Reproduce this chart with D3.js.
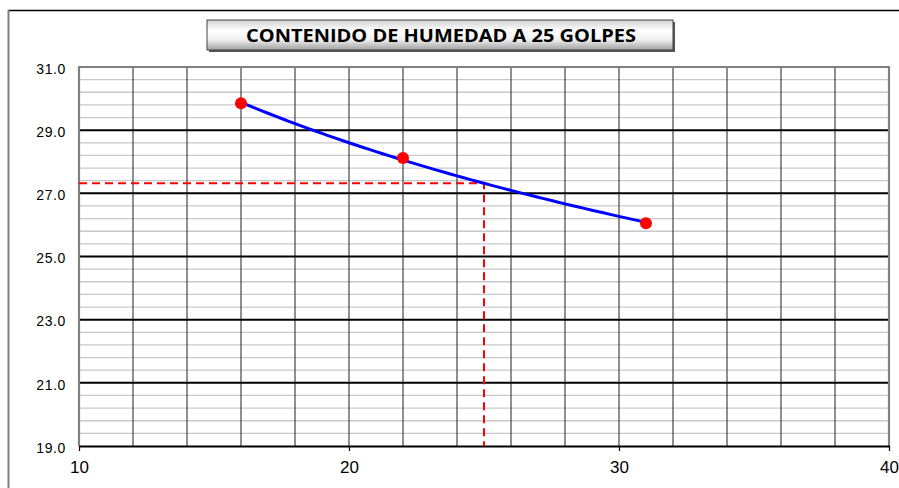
<!DOCTYPE html>
<html>
<head>
<meta charset="utf-8">
<script src="https://cdn.jsdelivr.net/npm/d3@7"></script>
<style>
  html, body { margin: 0; padding: 0; background: #fff; }
  svg { display: block; }
</style>
</head>
<body>
<svg id="chart" width="899" height="488"></svg>
<script>
// ---- data ----
const titleText = "CONTENIDO DE HUMEDAD A 25 GOLPES";
const golpes = [16, 22, 31];            // number of blows
const humedad = [29.85, 28.12, 26.05];  // moisture content (%)
const golpesRef = 25;                   // reference blows
const humedadRef = 27.32;               // moisture at 25 blows
const xTicks = [10, 20, 30, 40];
const yTicks = [19, 21, 23, 25, 27, 29, 31];
const xDomain = [10, 40];
const yDomain = [19, 31];

// ---- layout ----
const svg = d3.select("#chart");
const pLeft = 79, pRight = 889, pTop = 67, pBottom = 446;

const x = d3.scaleLinear().domain(xDomain).range([pLeft, pRight]);
const y = d3.scaleLinear().domain(yDomain).range([pBottom, pTop]);

// outer chart border
svg.append("line").attr("x1", 8).attr("x2", 899).attr("y1", 10.5).attr("y2", 10.5)
  .attr("stroke", "#000").attr("stroke-width", 1.5);
svg.append("line").attr("x1", 8.5).attr("x2", 8.5).attr("y1", 10).attr("y2", 488)
  .attr("stroke", "#808080").attr("stroke-width", 2);

// minor horizontal grid (every 0.4)
const minor = d3.range(19, 31.0001, 0.4).filter(v => Math.abs((v - 19) / 2 - Math.round((v - 19) / 2)) > 1e-6);
svg.append("g").selectAll("line").data(minor).join("line")
  .attr("x1", pLeft).attr("x2", pRight)
  .attr("y1", d => y(d)).attr("y2", d => y(d))
  .attr("stroke", "#c8c8c8").attr("stroke-width", 1.3);

// vertical grid every 2
const vgrid = d3.range(12, 40, 2);
svg.append("g").selectAll("line").data(vgrid).join("line")
  .attr("x1", d => x(d)).attr("x2", d => x(d))
  .attr("y1", pTop).attr("y2", pBottom)
  .attr("stroke", "#333").attr("stroke-width", 1.1);

// major horizontal grid
svg.append("g").selectAll("line").data(yTicks.filter(d => d !== 19 && d !== 31)).join("line")
  .attr("x1", pLeft).attr("x2", pRight)
  .attr("y1", d => y(d)).attr("y2", d => y(d))
  .attr("stroke", "#000").attr("stroke-width", 2);

// plot border (top/left/right gray)
svg.append("path")
  .attr("d", `M${pLeft},${pBottom}V${pTop}H${pRight}V${pBottom}`)
  .attr("fill", "none").attr("stroke", "#808080").attr("stroke-width", 2.2);

// x axis
const xAxis = d3.axisBottom(x).tickValues(xTicks).tickSize(5).tickSizeOuter(0).tickFormat(d3.format("d"));
const gx = svg.append("g").attr("transform", `translate(0,${pBottom})`).call(xAxis);
gx.select(".domain").attr("stroke", "#000").attr("stroke-width", 2);
gx.selectAll(".tick line").attr("stroke", "#000").attr("stroke-width", 1.2);
gx.selectAll(".tick text").attr("font-family", "Liberation Sans, Arial, sans-serif")
  .attr("font-size", 17).attr("fill", "#000").attr("dy", 0).attr("y", 27);

// y axis labels
const yAxis = d3.axisLeft(y).tickValues(yTicks).tickSize(0).tickFormat(d3.format(".1f"));
const gy = svg.append("g").attr("transform", `translate(${pLeft},0)`).call(yAxis);
gy.select(".domain").remove();
gy.selectAll(".tick text").attr("font-family", "Liberation Sans, Arial, sans-serif")
  .attr("font-size", 14).attr("letter-spacing", "0.6px").attr("fill", "#000")
  .attr("x", -13).attr("dy", "0.45em");

// dashed reference lines
svg.append("path")
  .attr("d", `M${x(xDomain[0])},${y(humedadRef)}H${x(golpesRef)}V${y(yDomain[0])}`)
  .attr("fill", "none").attr("stroke", "#ff0000").attr("stroke-width", 2)
  .attr("stroke-dasharray", "8,5");

// logarithmic trend line fitted to the data (w = a + b ln N)
const lx = golpes.map(Math.log);
const mx = d3.mean(lx), my = d3.mean(humedad);
const b = d3.sum(lx.map((v, i) => (v - mx) * (humedad[i] - my))) / d3.sum(lx.map(v => (v - mx) ** 2));
const a = my - b * mx;
const trendX = d3.range(golpes[0], golpes[golpes.length - 1] + 0.001, 0.25);
svg.append("path")
  .datum(trendX)
  .attr("d", d3.line().x(d => x(d)).y(d => y(a + b * Math.log(d))))
  .attr("fill", "none").attr("stroke", "#0000ff").attr("stroke-width", 3);

// data points
svg.append("g").selectAll("circle").data(golpes).join("circle")
  .attr("cx", d => x(d)).attr("cy", (d, i) => y(humedad[i]))
  .attr("r", 6).attr("fill", "#ff0000");

// title box
const defs = svg.append("defs");
const grad = defs.append("linearGradient").attr("id", "tg").attr("x1", 0).attr("y1", 0).attr("x2", 0).attr("y2", 1);
grad.append("stop").attr("offset", "0%").attr("stop-color", "#d0d0d0");
grad.append("stop").attr("offset", "35%").attr("stop-color", "#ffffff");
grad.append("stop").attr("offset", "65%").attr("stop-color", "#f0f0f0");
grad.append("stop").attr("offset", "100%").attr("stop-color", "#a0a0a0");
svg.append("rect").attr("x", 209).attr("y", 22).attr("width", 466).attr("height", 30)
  .attr("fill", "#555");
svg.append("rect").attr("x", 207).attr("y", 20).attr("width", 466).attr("height", 30)
  .attr("fill", "url(#tg)").attr("stroke", "#444").attr("stroke-width", 1);
svg.append("text").attr("x", 441).attr("y", 42)
  .attr("text-anchor", "middle")
  .attr("font-family", "Open Sans, Lato, sans-serif").attr("font-weight", 700)
  .attr("font-size", 18).attr("textLength", 390).attr("lengthAdjust", "spacingAndGlyphs")
  .attr("fill", "#000").text(titleText);
</script>
</body>
</html>
